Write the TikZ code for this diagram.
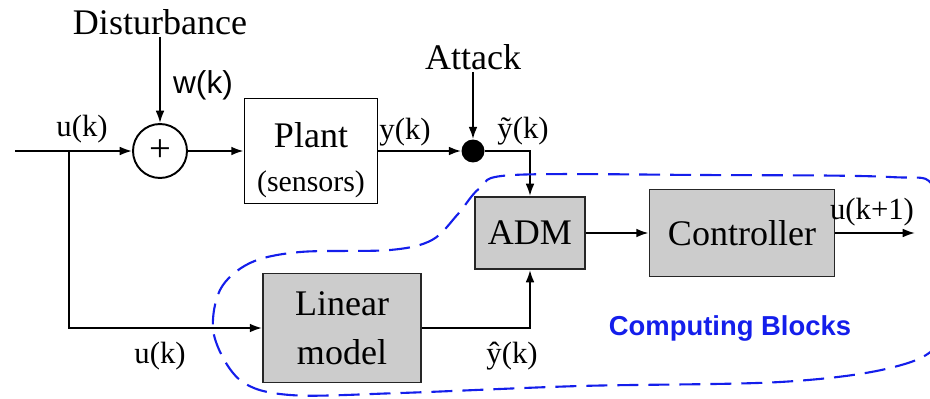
\documentclass[tikz,border=0pt]{standalone}
\usepackage{fontspec}
\setmainfont{Liberation Serif}
\setsansfont{Liberation Sans}
\usepackage{xcolor}
\usetikzlibrary{arrows.meta,positioning,calc}

\definecolor{cblue}{RGB}{20,30,235}
\definecolor{boxgray}{RGB}{204,204,204}

\begin{document}
\begin{tikzpicture}[
      x=0.02cm, y=-0.02cm,
      blk/.style={draw, line width=1.1pt, minimum width=2.66cm, minimum height=2.1cm,
                  align=center, inner sep=0pt},
      gblk/.style={blk, fill=boxgray, draw=black!85},
      big/.style={font=\fontsize{20.5}{23}\selectfont},
      sig/.style={font=\fontsize{17.5}{20}\selectfont, inner sep=1pt},
      wire/.style={line width=1.1pt},
      >={Latex[length=7pt,width=5pt]}
    ]
    \useasboundingbox (0,0) rectangle (930,399);

    % blocks
    \node[draw, circle, line width=1.1pt, minimum size=1.08cm, inner sep=0pt,
          font=\fontsize{22}{24}\selectfont] (sum) at (160,151) {+};
    \node[blk, big] (plant) at (311,151)
         {\rule{0pt}{25pt}Plant\\[2pt]{\fontsize{17}{20}\selectfont(sensors)}};
    \node[circle, fill=black, minimum size=0.46cm, inner sep=0pt] (dot) at (473,151) {};
    \node[gblk, big, minimum width=2.2cm, minimum height=1.44cm] (adm) at (530,233) {ADM};
    \node[gblk, big, minimum width=3.7cm, minimum height=1.74cm] (ctrl) at (742,233) {Controller};
    \node[gblk, big, minimum width=3.16cm, minimum height=2.18cm] (lin) at (342,328)
         {Linear\\[5pt]model};

    % inputs from outside
    \node[big, inner sep=1pt] (dist) at (160,22) {Disturbance};
    \node[big, inner sep=1pt] (attack) at (473,57) {Attack};
    \coordinate (in) at (15,151);
    \coordinate (br) at (69,151);
    \coordinate (out) at (915,233);

    % connectors
    \draw[wire,->] (in) -- (sum.west);
    \draw[wire,->] (dist.south) -- (sum.north);
    \draw[wire,->] (sum.east) -- (plant.west);
    \draw[wire,->] (plant.east) -- (dot.west);
    \draw[wire,->] (attack.south) -- (dot.north);
    \draw[wire,->] (dot.east) -| (adm.north);
    \draw[wire,->] (br) |- (lin.west);
    \draw[wire,->] (lin.east) -| (adm.south);
    \draw[wire,->] (adm.east) -- (ctrl.west);
    \draw[wire,->] (ctrl.east) -- (out);

    % signal labels
    \node[sig] (lu) at (82,129) {u(k)};
    \node[font=\sffamily\fontsize{18}{20}\selectfont] (lw) at (203,85) {w(k)};
    \node[sig] (ly) at (405,132) {y(k)};
    \node[sig] (lyt) at (523,131) {\~{y}(k)};
    \node[sig] (luk) at (872,212) {u(k+1)};
    \node[sig] (lyh) at (512,356) {\^{y}(k)};
    \node[sig] (lub) at (160,356) {u(k)};

    % computing blocks region
    \begin{scope}
      \clip (0,0) rectangle (930,399);
      \draw[cblue, line width=1.2pt, dash pattern=on 0.42cm off 0.2cm]
        plot[smooth cycle, tension=0.55] coordinates {
          (513,175) (700,175) (890,177) (935,188) (962,270) (940,342) (890,368)
          (780,382) (580,386) (400,393) (290,395) (240,380) (214,335) (220,290)
          (250,263) (300,252) (390,250) (432,240) (458,214) (480,188)};
    \end{scope}
    \node[cblue, font=\sffamily\bfseries\fontsize{15.6}{18}\selectfont] (cb) at (730,328) {Computing Blocks};
  \end{tikzpicture}
\end{document}
